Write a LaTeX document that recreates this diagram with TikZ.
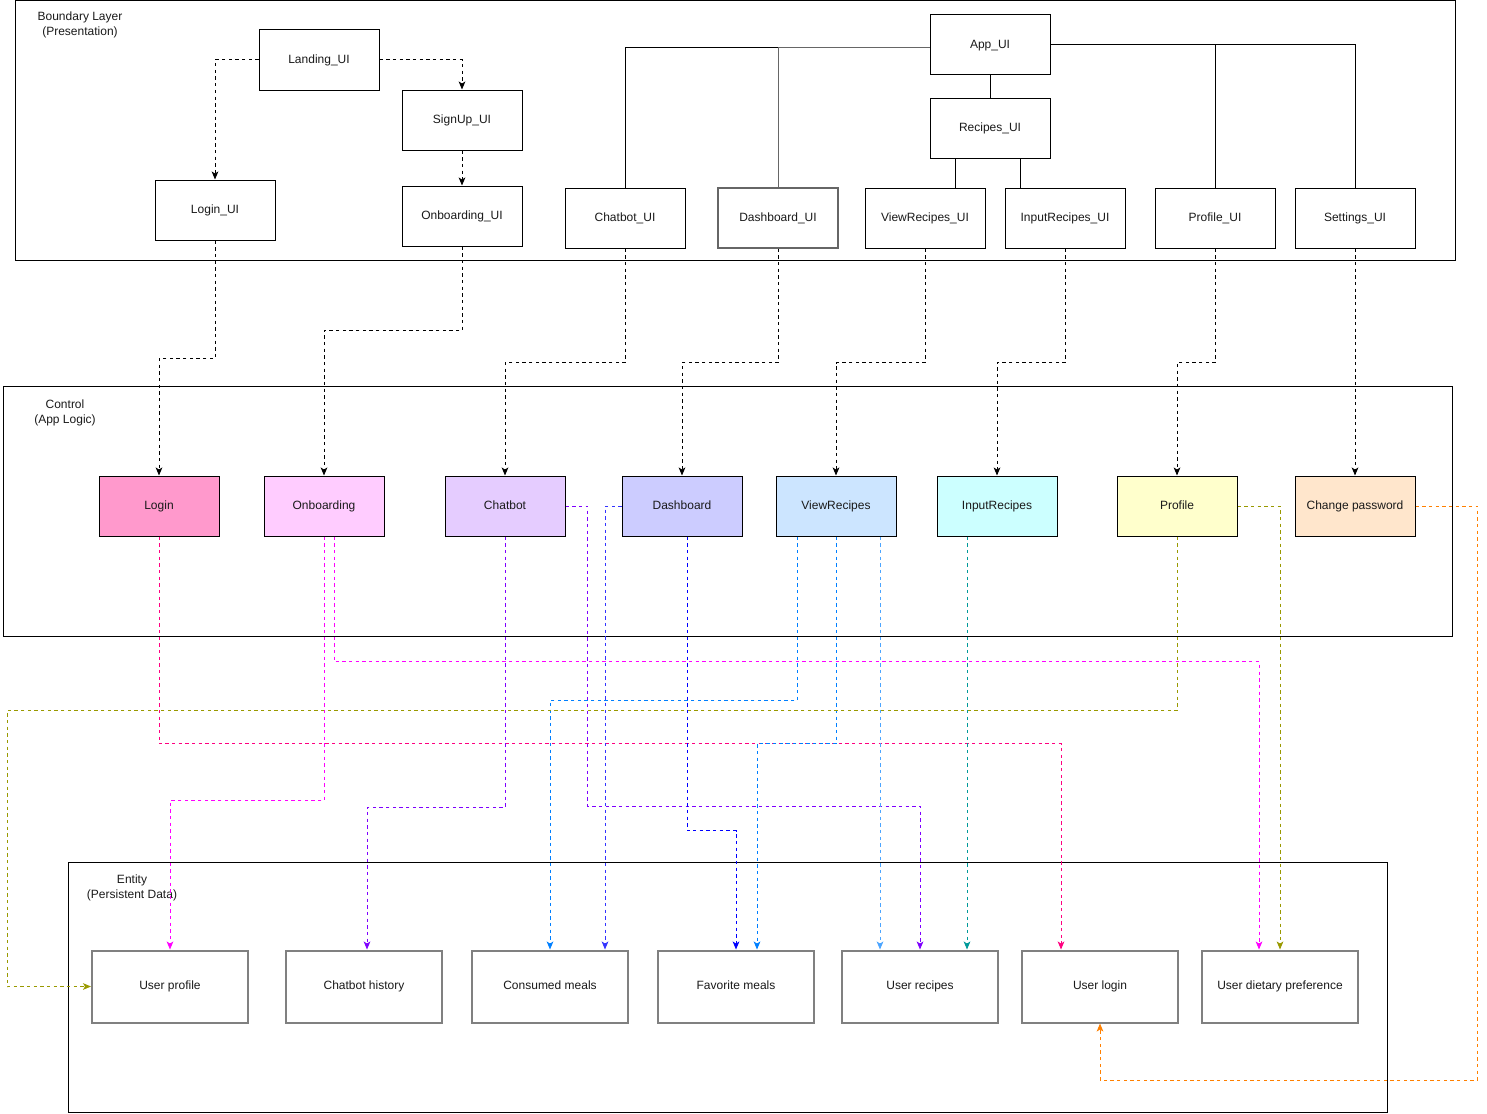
\documentclass[tikz,border=0pt]{standalone}
\usepackage{fontspec}
\setmainfont{Liberation Sans}
\usepackage{xcolor}
\usepackage{tikz}
\usetikzlibrary{arrows.meta,calc}
\definecolor{cInk}{HTML}{1A1A1A}
\definecolor{cEnt}{HTML}{808080}
\definecolor{cPink}{HTML}{FF0080}
\definecolor{cMag}{HTML}{FF00FF}
\definecolor{cPurple}{HTML}{7F00FF}
\definecolor{cBlue}{HTML}{0000FF}
\definecolor{cSky}{HTML}{007FFF}
\definecolor{cTeal}{HTML}{009999}
\definecolor{cOlive}{HTML}{999900}
\definecolor{cOrange}{HTML}{FF8000}
\definecolor{fLogin}{HTML}{FF99CC}
\definecolor{fOnb}{HTML}{FFCCFF}
\definecolor{fChat}{HTML}{E5CCFF}
\definecolor{fDash}{HTML}{CCCCFF}
\definecolor{fView}{HTML}{CCE5FF}
\definecolor{fInput}{HTML}{CCFFFF}
\definecolor{fProf}{HTML}{FFFFCC}
\definecolor{fPw}{HTML}{FFE6CC}
\newcommand{\uifont}{\fontsize{9}{11.25}\selectfont}
\tikzset{
  uibox/.style={draw=black,fill=#1,line width=0.75pt,minimum width=90pt,minimum height=45pt,inner sep=0pt,text height=6.6pt,text depth=1.9pt,font=\uifont,text=cInk},
  uibox/.default=white,
  entbox/.style={draw=cEnt,fill=white,line width=1.5pt,minimum width=117pt,minimum height=54pt,inner sep=0pt,text height=6.6pt,text depth=1.9pt,font=\uifont,text=cInk},
  layer/.style={draw=black,line width=0.75pt},
  lbl/.style={font=\uifont,text=cInk,align=center,inner sep=0pt},
  tree/.style={draw=black,line width=0.75pt},
  flow/.style={-{Stealth[length=6pt,width=5pt,inset=1.5pt]},draw=#1,line width=0.75pt,dash pattern=on 2.5pt off 2.5pt},
  flow/.default=black,
}

\begin{document}
\begin{tikzpicture}[x=0.75pt,y=-0.75pt]
  \useasboundingbox (0,0) rectangle (1487,1113);
  % layers
  \draw[layer] (15,1) rectangle (1455,260);
  \draw[layer] (3,386) rectangle (1452,636);
  \draw[layer] (68,862) rectangle (1387,1112);
  \node[lbl] (lyb) at (80,25) {Boundary Layer\\(Presentation)};
  \node[lbl] (lyc) at (65,413) {Control\\(App Logic)};
  \node[lbl] (lye) at (132,887.5) {Entity\\(Persistent Data)};

  % boundary
  \node[uibox] (landui) at (319,60) {Landing\_UI};
  \node[uibox] (signui) at (462,120) {SignUp\_UI};
  \node[uibox] (logui) at (215,210) {Login\_UI};
  \node[uibox] (onbui) at (462,216) {Onboarding\_UI};
  \node[uibox] (appui) at (990,45) {App\_UI};
  \node[uibox] (recui) at (990,128) {Recipes\_UI};
  \node[uibox] (chatui) at (625,218) {Chatbot\_UI};
  \node[uibox,draw=black!60,line width=1.1pt] (dashui) at (778,218) {Dashboard\_UI};
  \node[uibox] (vrui) at (925,218) {ViewRecipes\_UI};
  \node[uibox] (irui) at (1065,218) {InputRecipes\_UI};
  \node[uibox] (profui) at (1215,218) {Profile\_UI};
  \node[uibox] (setui) at (1355,218) {Settings\_UI};

  \coordinate (aw) at ($(appui.west)+(0,3)$);
  \coordinate (rl) at ($(recui.south)+(-35,0)$);
  \coordinate (rr) at ($(recui.south)+(30,0)$);
  \draw[tree] (aw) -| (chatui.north);
  \draw[tree,draw=black!60] (dashui.north) |- (aw);
  \draw[tree] (appui.east) -| (profui.north);
  \draw[tree] (appui.east) -| (setui.north);
  \draw[tree] (appui) -- (recui);
  \draw[tree] (rl) -- (rl |- vrui.north);
  \draw[tree] (rr) -- (rr |- irui.north);

  \draw[flow] (landui.west) -| (logui.north);
  \draw[flow] (landui.east) -| (signui.north);
  \draw[flow] (signui) -- (onbui);

  % control
  \foreach \x/\n/\t/\f in {159/login/Login/fLogin,324/onb/Onboarding/fOnb,505/chat/Chatbot/fChat,682/dash/Dashboard/fDash,836/vr/ViewRecipes/fView,997/ir/InputRecipes/fInput,1177/prof/Profile/fProf,1355/chpw/Change password/fPw}
    \node[uibox=\f] (\n) at (\x,506) {\t};

  \foreach \u/\c/\d in {logui/login/118,onbui/onb/84,chatui/chat/114,dashui/dash/114,vrui/vr/114,irui/ir/114,profui/prof/114}
    \draw[flow] (\u.south) -- ++(0,\d) -| (\c.north);
  \draw[flow] (setui) -- (chpw);

  % entity
  \foreach \x/\n/\t in {170/uprof/User profile,364/chist/Chatbot history,550/cmeal/Consumed meals,736/fmeal/Favorite meals,920/urec/User recipes,1100/ulogin/User login,1280/udiet/User dietary preference}
    \node[entbox] (\n) at (\x,986.5) {\t};

  % control -> entity
  \draw[flow=cPink] (login.south) -- ++(0,207) -| ($(ulogin.north)+(-39,0)$);
  \draw[flow=cMag] (onb.south) -- ++(0,264) -| (uprof.north);
  \draw[flow=cMag] ($(onb.south)+(10,0)$) -- ++(0,125) -| ($(udiet.north)+(-21,0)$);
  \draw[flow=cPurple] (chat.south) -- ++(0,271) -| ($(chist.north)+(3,0)$);
  \draw[flow=cPurple] (chat.east) -- ++(22,0) -- ++(0,300) -| (urec.north);
  \draw[flow=cBlue!80] (dash.west) -| ($(cmeal.north)+(55,0)$);
  \draw[flow=cBlue] ($(dash.south)+(5,0)$) -- ++(0,294) -| (fmeal.north);
  \draw[flow=cSky] ($(vr.south)+(-39,0)$) -- ++(0,164) -| (cmeal.north);
  \draw[flow=cSky] (vr.south) -- ++(0,207) -| ($(fmeal.north)+(21,0)$);
  \draw[flow=cSky!70] ($(vr.south)+(44,0)$) -- ($(urec.north)+(-40,0)$);
  \draw[flow=cTeal] ($(ir.south)+(-30,0)$) -- ($(urec.north)+(47,0)$);
  \draw[flow=cOlive] (prof.south) -- ++(0,174) -- ++(-1170,0) |- (uprof.west);
  \draw[flow=cOlive] (prof.east) -| (udiet.north);
  \draw[flow=cOrange] (chpw.east) -- ++(62,0) -- ++(0,574) -| (ulogin.south);
\end{tikzpicture}
\end{document}
